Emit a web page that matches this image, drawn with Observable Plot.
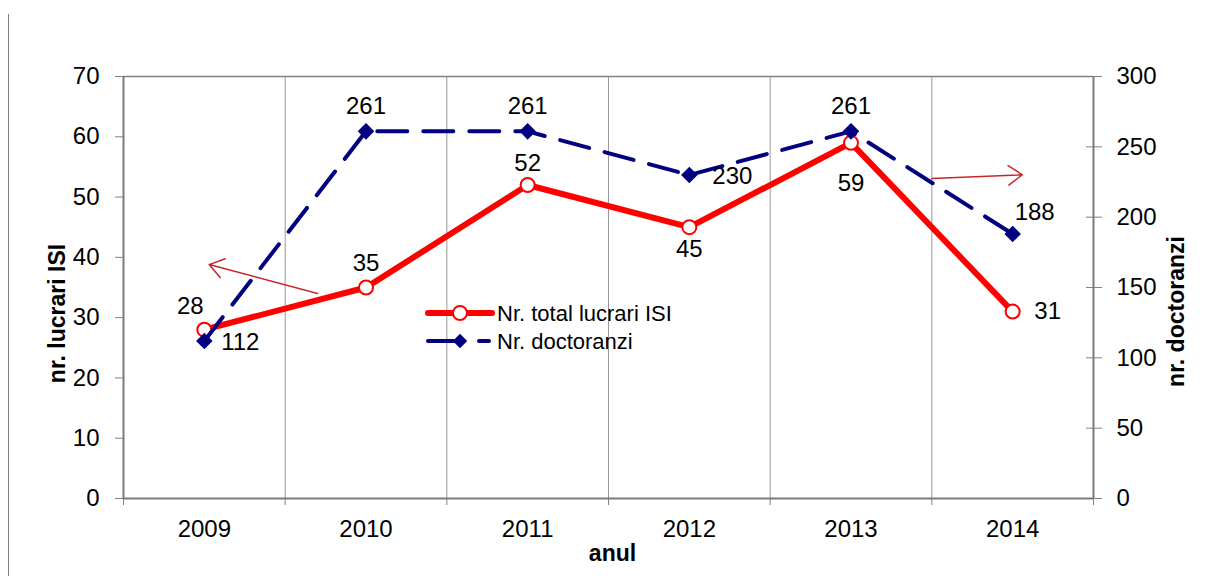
<!DOCTYPE html>
<html>
<head>
<meta charset="utf-8">
<script src="https://cdn.jsdelivr.net/npm/d3@7"></script>
<script src="https://cdn.jsdelivr.net/npm/@observablehq/plot@0.6"></script>
<style>
  body { margin: 0; background: #fff; font-family: "Liberation Sans", Arial, sans-serif; }
  #wrap { position: relative; width: 1208px; height: 576px; overflow: hidden; }
  #edge { position: absolute; left: 8px; top: 14px; width: 0; height: 562px; border-left: 1.5px solid #808080; }
  #chart { position: absolute; left: 0; top: 0; }
  #legend { position: absolute; left: 420px; top: 296px; }
</style>
</head>
<body>
<div id="wrap">
  <div id="edge"></div>
  <div id="chart"></div>
  <div id="legend"></div>
</div>
<script>
// ---- data ----
const years = [2009, 2010, 2011, 2012, 2013, 2014];
const isiValues = [28, 35, 52, 45, 59, 31];
const doctorandValues = [112, 261, 261, 230, 261, 188];
const leftTicks = [0, 10, 20, 30, 40, 50, 60, 70];
const rightTicks = [0, 50, 100, 150, 200, 250, 300];
const seriesNames = ["Nr. total lucrari ISI", "Nr. doctoranzi"];
const leftTitle = "nr. lucrari ISI";
const rightTitle = "nr. doctoranzi";
const bottomTitle = "anul";
// annotation arrows (data units: year, left-axis value)
const arrowStarts = [[2009.70, 34.0], [2013.50, 53.1]];
const arrowEnds = [[2009.03, 38.8], [2014.06, 53.7]];

// ---- layout (label offsets in px) ----
const isiLabelOffsets = [[-14, -23], [0, -24], [0, -22], [0, 22], [0, 40], [35, 0]];
const docLabelOffsets = [[36, 1], [0, -25], [0, -25], [43, 1], [0, -25], [22, -22]];

const leftMax = leftTicks[leftTicks.length - 1];
const rightMax = rightTicks[rightTicks.length - 1];
const ratio = leftMax / rightMax;

const rows = years.map((year, i) => ({year, isi: isiValues[i], doc: doctorandValues[i]}));
const boundaries = [years[0] - 0.5, ...years.map(y => y + 0.5)];
const inner = boundaries.slice(1, -1);
const arrows = arrowStarts.map((s, i) => ({x1: s[0], y1: s[1], x2: arrowEnds[i][0], y2: arrowEnds[i][1]}));

const RED = "#ff0000", NAVY = "#000080", GRAY = "#808080";

const labelMarks = [];
rows.forEach((r, i) => {
  labelMarks.push(Plot.text([r], {x: "year", y: "isi", text: d => String(d.isi),
    dx: isiLabelOffsets[i][0], dy: isiLabelOffsets[i][1], fontSize: 24, fill: "#000"}));
  labelMarks.push(Plot.text([r], {x: "year", y: d => d.doc * ratio, text: d => String(d.doc),
    dx: docLabelOffsets[i][0], dy: docLabelOffsets[i][1], fontSize: 24, fill: "#000"}));
});

const chart = Plot.plot({
  width: 1208,
  height: 576,
  marginTop: 76,
  marginBottom: 78,
  marginLeft: 123,
  marginRight: 115,
  style: {fontFamily: "'Liberation Sans', Arial, sans-serif", fontSize: "24px", color: "#000", background: "transparent"},
  x: {domain: [boundaries[0], boundaries[boundaries.length - 1]], axis: null},
  y: {domain: [0, leftMax], axis: null},
  marks: [
    Plot.ruleX(inner, {stroke: "#999", strokeWidth: 1}),
    Plot.ruleY([leftMax], {stroke: GRAY, strokeWidth: 1.5}),
    // left axis
    Plot.axisY({anchor: "left", ticks: leftTicks, tickSize: 8, tickPadding: 16, fontSize: 24,
      stroke: GRAY, tickFormat: d => String(d)}),
    // right axis ticks (crossing) and labels
    Plot.axisY({anchor: "right", ticks: rightTicks.map(v => v * ratio), tickSize: 16, dx: -8,
      stroke: GRAY, tickFormat: () => ""}),
    Plot.axisY({anchor: "right", ticks: rightTicks.map(v => v * ratio), tickSize: 0, tickPadding: 23,
      fontSize: 24, tickFormat: d => String(Math.round(d / ratio))}),
    // x axis ticks at boundaries, labels at years
    Plot.axisX({anchor: "bottom", ticks: boundaries, tickSize: 7, stroke: GRAY, tickFormat: () => ""}),
    Plot.axisX({anchor: "bottom", ticks: years, tickSize: 0, tickPadding: 21, fontSize: 24,
      tickFormat: d => String(d)}),
    // axis lines
    Plot.ruleX([boundaries[0], boundaries[boundaries.length - 1]], {stroke: "#7a7a7a", strokeWidth: 2}),
    Plot.ruleY([0], {stroke: "#7a7a7a", strokeWidth: 2}),
    // ISI series
    Plot.line(rows, {x: "year", y: "isi", stroke: RED, strokeWidth: 6, strokeLinejoin: "round"}),
    Plot.dot(rows, {x: "year", y: "isi", r: 7, fill: "#fff", stroke: RED, strokeWidth: 2}),
    // doctoranzi series
    Plot.line(rows, {x: "year", y: d => d.doc * ratio, stroke: NAVY, strokeWidth: 4,
      strokeDasharray: "30,16", strokeLinecap: "round"}),
    Plot.dot(rows, {x: "year", y: d => d.doc * ratio, symbol: "diamond2", r: 6.5, fill: NAVY, stroke: NAVY}),
    ...labelMarks,
    // arrows
    Plot.arrow(arrows, {x1: "x1", y1: "y1", x2: "x2", y2: "y2", stroke: "#c8262b", strokeWidth: 1.5,
      headLength: 17, headAngle: 70, bend: 0}),
    // titles
    Plot.text([leftTitle], {frameAnchor: "left", textAnchor: "middle", dx: -66, dy: 26, rotate: -90,
      fontWeight: "bold", fontSize: 23, fill: "#000"}),
    Plot.text([rightTitle], {frameAnchor: "right", textAnchor: "middle", dx: 83, dy: 24, rotate: -90,
      fontWeight: "bold", fontSize: 23, fill: "#000"}),
    Plot.text([bottomTitle], {frameAnchor: "bottom", textAnchor: "middle", dx: 4, dy: 62,
      fontWeight: "bold", fontSize: 23, fill: "#000"})
  ]
});
document.getElementById("chart").appendChild(chart);

// legend
const lg = d3.select("#legend").append("svg").attr("width", 320).attr("height", 64)
  .style("font-family", "'Liberation Sans', Arial, sans-serif");
// row 1
lg.append("line").attr("x1", 8).attr("x2", 72).attr("y1", 17).attr("y2", 17)
  .attr("stroke", RED).attr("stroke-width", 6).attr("stroke-linecap", "round");
lg.append("circle").attr("cx", 40).attr("cy", 17).attr("r", 7).attr("fill", "#fff")
  .attr("stroke", RED).attr("stroke-width", 2);
lg.append("text").attr("x", 77).attr("y", 17).attr("dy", "0.35em").attr("font-size", 22).text(seriesNames[0]);
// row 2
lg.append("line").attr("x1", 8).attr("x2", 44).attr("y1", 45).attr("y2", 45)
  .attr("stroke", NAVY).attr("stroke-width", 4).attr("stroke-linecap", "round");
lg.append("line").attr("x1", 59).attr("x2", 69).attr("y1", 45).attr("y2", 45)
  .attr("stroke", NAVY).attr("stroke-width", 4).attr("stroke-linecap", "round");
lg.append("path").attr("d", d3.symbol(d3.symbolDiamond2, Math.PI * 6.5 * 6.5)()).attr("transform", "translate(40,45)")
  .attr("fill", NAVY);
lg.append("text").attr("x", 77).attr("y", 45).attr("dy", "0.35em").attr("font-size", 22).text(seriesNames[1]);
</script>
</body>
</html>
